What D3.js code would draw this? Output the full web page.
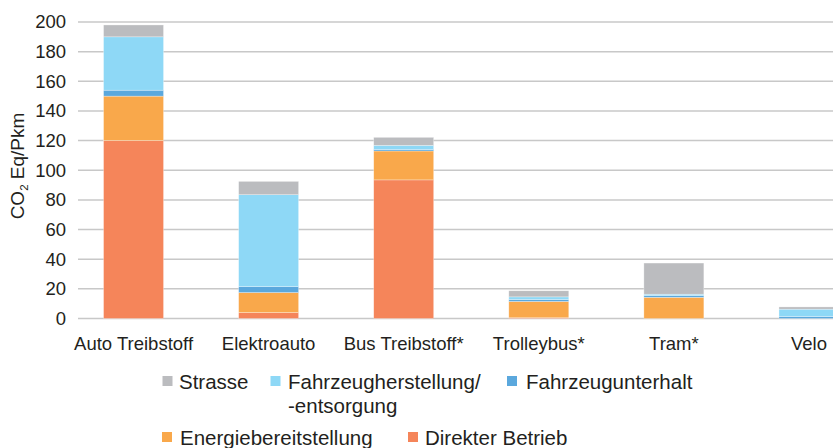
<!DOCTYPE html>
<meta charset="utf-8">
<title>CO2 Eq/Pkm</title>
<style>
  body { margin: 0; background: #fff; }
  text { font-family: "Liberation Sans", Arial, sans-serif; fill: #231f20; }
</style>
<body>
<div id="chart"></div>
<script src="https://d3js.org/d3.v7.min.js"></script>
<script>

// categories and series values (bottom to top of each bar)
var categories = ["Auto Treibstoff", "Elektroauto", "Bus Treibstoff*", "Trolleybus*", "Tram*", "Velo"];
var direkterBetrieb = [120, 4, 93.5, 0.5, 0, 0];
var energiebereitstellung = [30, 13.5, 19.5, 11, 14.3, 0];
var fahrzeugunterhalt = [4, 4, 1, 1.3, 1.1, 1.3];
var fahrzeugherstellung = [36, 62, 2.8, 1.8, 1, 5];
var strasse = [8, 9, 5.4, 4.1, 21, 1.5];
var yTicks = [0, 20, 40, 60, 80, 100, 120, 140, 160, 180, 200];

var seriesNames = ["Direkter Betrieb", "Energiebereitstellung", "Fahrzeugunterhalt", "Fahrzeugherstellung/\n-entsorgung", "Strasse"];
var seriesValues = [direkterBetrieb, energiebereitstellung, fahrzeugunterhalt, fahrzeugherstellung, strasse];
var colors = ["#f5855a", "#f9a84b", "#5ba8dd", "#8ed8f6", "#bbbcbf"];

var width = 833, height = 448;

var svg = d3.select("#chart").append("svg")
    .attr("width", width)
    .attr("height", height);

// build table for the stack
var table = categories.map(function(c, i) {
  var row = { cat: c };
  seriesNames.forEach(function(s, j) { row[s] = seriesValues[j][i]; });
  return row;
});
var stacked = d3.stack().keys(seriesNames)(table);

var x = d3.scaleBand()
    .domain(categories)
    .range([66, 876.5])
    .paddingInner(0.556)
    .paddingOuter(0.278);

var y = d3.scaleLinear()
    .domain([0, 200])
    .range([318.5, 22]);

var color = d3.scaleOrdinal().domain(seriesNames).range(colors);

// gridlines
svg.append("g")
  .selectAll("line")
  .data(yTicks)
  .enter().append("line")
    .attr("x1", 78)
    .attr("x2", width)
    .attr("y1", function(d) { return y(d); })
    .attr("y2", function(d) { return y(d); })
    .attr("stroke", "#c8c8c8")
    .attr("stroke-width", 1.5);

// y tick labels
var yAxis = svg.append("g")
    .attr("transform", "translate(68,0)")
    .call(d3.axisLeft(y).tickValues(yTicks).tickSize(0).tickPadding(2));
yAxis.select(".domain").remove();
yAxis.selectAll("text")
    .attr("font-size", "18.5px")
    .attr("font-family", "Liberation Sans, Arial, sans-serif")
    .attr("fill", "#231f20");

// y axis title
svg.append("text")
    .attr("transform", "translate(24,166) rotate(-90)")
    .attr("text-anchor", "middle")
    .attr("font-size", "19px")
    .html('CO<tspan font-size="11.5px" dy="4">2</tspan><tspan dy="-4"> Eq/Pkm</tspan>');

// bars
svg.append("g")
  .selectAll("g")
  .data(stacked)
  .enter().append("g")
    .attr("fill", function(d) { return color(d.key); })
  .selectAll("rect")
  .data(function(d) { return d; })
  .enter().append("rect")
    .attr("x", function(d) { return x(d.data.cat); })
    .attr("y", function(d) { return y(d[1]); })
    .attr("width", x.bandwidth())
    .attr("height", function(d) { return y(d[0]) - y(d[1]); })
    .attr("stroke", "rgba(255,255,255,0.5)")
    .attr("stroke-width", 0.6);

// category labels
var xAxis = svg.append("g")
    .attr("transform", "translate(0,318.5)")
    .call(d3.axisBottom(x).tickSize(0).tickPadding(18));
xAxis.select(".domain").remove();
xAxis.selectAll("text")
    .attr("font-size", "18.5px")
    .attr("font-family", "Liberation Sans, Arial, sans-serif")
    .attr("fill", "#231f20");

// legend
var legendItems = [
  { key: "Strasse", sx: 162.5, tx: 179, row: 389 },
  { key: "Fahrzeugherstellung/\n-entsorgung", sx: 270.5, tx: 288, row: 389 },
  { key: "Fahrzeugunterhalt", sx: 507, tx: 526, row: 389 },
  { key: "Energiebereitstellung", sx: 162, tx: 180, row: 445 },
  { key: "Direkter Betrieb", sx: 408, tx: 425, row: 445 }
];

var legend = svg.append("g")
  .selectAll("g")
  .data(legendItems)
  .enter().append("g");

legend.append("rect")
    .attr("x", function(d) { return d.sx; })
    .attr("y", function(d) { return d.row - 13; })
    .attr("width", 10)
    .attr("height", 10)
    .attr("fill", function(d) { return color(d.key); });

legend.append("text")
    .attr("x", function(d) { return d.tx; })
    .attr("y", function(d) { return d.row; })
    .attr("font-size", "20.5px")
    .each(function(d) {
      var lines = d.key.split("\n");
      var t = d3.select(this);
      lines.forEach(function(l, i) {
        t.append("tspan")
          .attr("x", d.tx)
          .attr("dy", i === 0 ? 0 : 24)
          .text(l);
      });
    });

</script>
</body>
